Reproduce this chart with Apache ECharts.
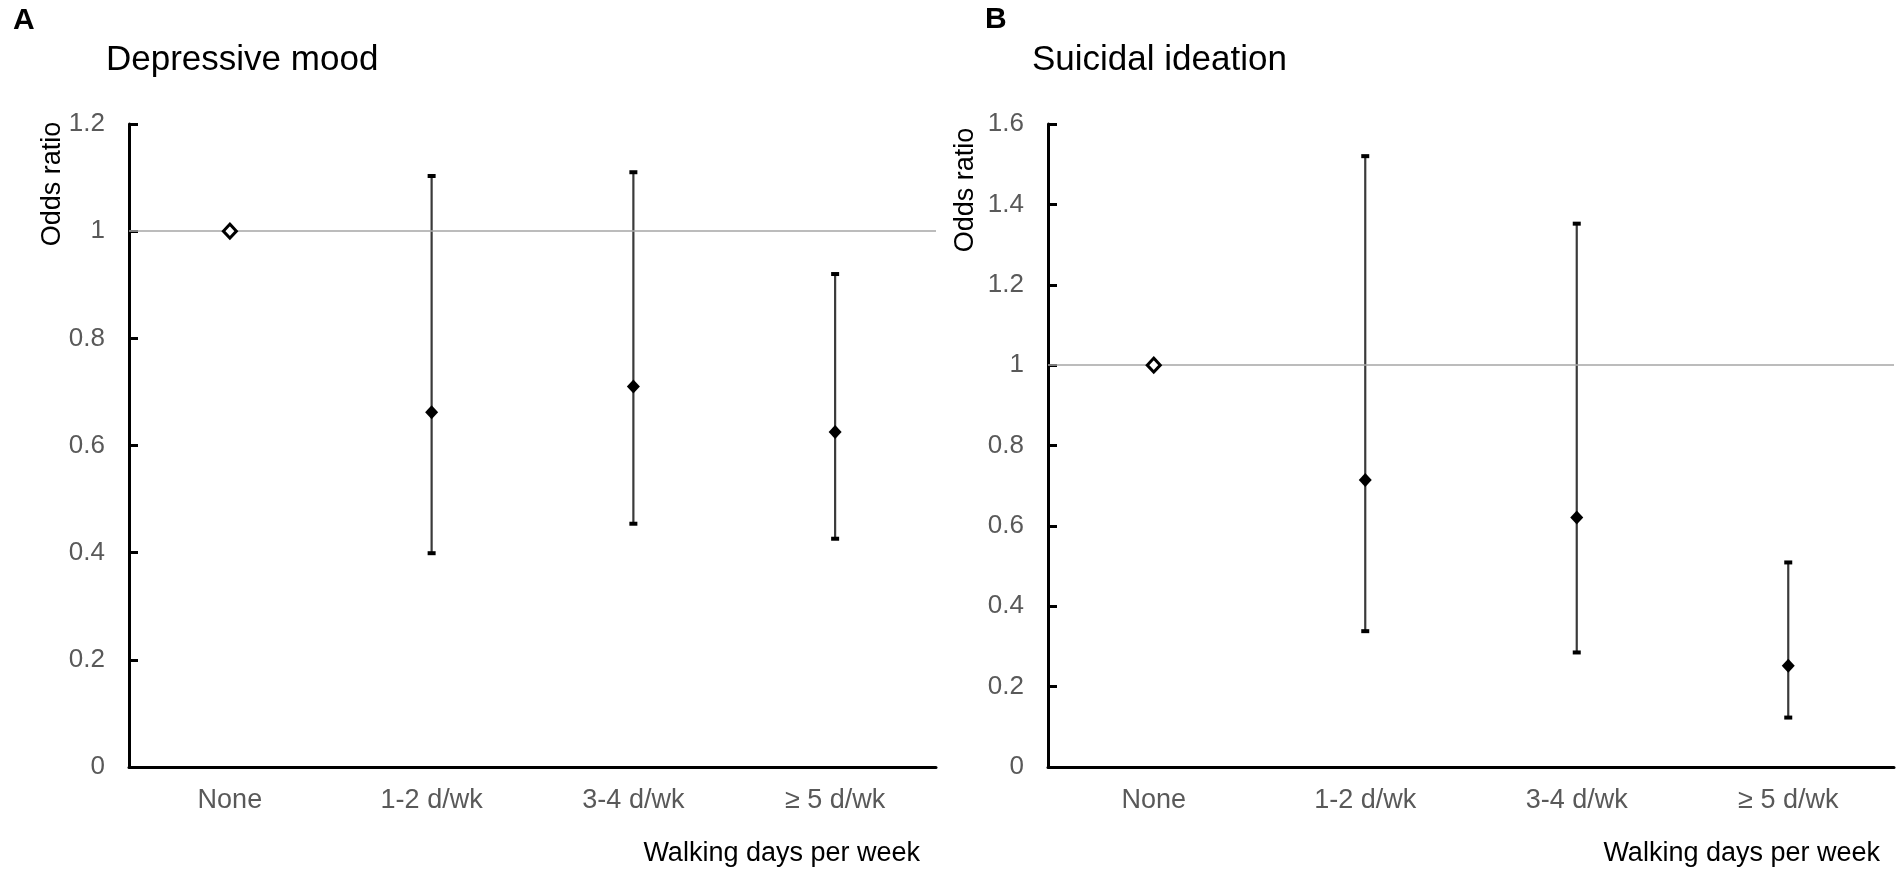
<!DOCTYPE html>
<html>
<head>
<meta charset="utf-8">
<script src="https://cdn.jsdelivr.net/npm/echarts@6/dist/echarts.min.js"></script>
<style>
html,body{margin:0;padding:0;background:#fff;}
#chart{width:1902px;height:874px;}
</style>
</head>
<body>
<div id="chart"></div>
<script>
// ---- data ----
var categories = ['None', '1-2 d/wk', '3-4 d/wk', '\u2265 5 d/wk'];
// Panel A: Depressive mood
var orA   = [1, 0.662, 0.710, 0.625];
var lowA  = [null, 0.399, 0.454, 0.426];
var highA = [null, 1.103, 1.110, 0.920];
// Panel B: Suicidal ideation
var orB   = [1, 0.714, 0.621, 0.252];
var lowB  = [null, 0.338, 0.285, 0.123];
var highB = [null, 1.520, 1.352, 0.509];
var yTicksA = {min: 0, max: 1.2, interval: 0.2};
var yTicksB = {min: 0, max: 1.6, interval: 0.2};
var panelTitles = ['Depressive mood', 'Suicidal ideation'];
var panelLetters = ['A', 'B'];
var yName = 'Odds ratio';
var xName = 'Walking days per week';

var FONT = "'Liberation Sans', Arial, sans-serif";

function ciData(low, high) {
  var out = [];
  for (var i = 0; i < low.length; i++) {
    if (low[i] != null) out.push([i, low[i], high[i]]);
  }
  return out;
}
function pointData(or) {
  return or.map(function (v, i) {
    if (i === 0) {
      return {value: [i, v], itemStyle: {color: '#ffffff', borderColor: '#000000', borderWidth: 3}};
    }
    return {value: [i, v]};
  });
}
function renderCI(params, api) {
  var x = api.value(0), lo = api.value(1), hi = api.value(2);
  var pLo = api.coord([x, lo]);
  var pHi = api.coord([x, hi]);
  return {
    type: 'group',
    children: [
      {type: 'line', shape: {x1: pLo[0], y1: pLo[1], x2: pHi[0], y2: pHi[1]},
       style: {stroke: '#3a3a3a', lineWidth: 2.2}},
      {type: 'rect', shape: {x: pHi[0] - 4, y: pHi[1] - 2, width: 8, height: 4}, style: {fill: '#000'}},
      {type: 'rect', shape: {x: pLo[0] - 4, y: pLo[1] - 2, width: 8, height: 4}, style: {fill: '#000'}}
    ]
  };
}
function xAxisCfg(gridIndex) {
  return {
    type: 'category', gridIndex: gridIndex, data: categories,
    boundaryGap: true,
    axisLine: {lineStyle: {color: '#000', width: 3}},
    axisTick: {inside: true, length: 8, lineStyle: {color: '#000', width: 2.5}},
    axisLabel: {color: '#595959', fontSize: 27, fontFamily: FONT, margin: 20},
    splitLine: {show: false}
  };
}
function yAxisCfg(gridIndex, t) {
  return {
    type: 'value', gridIndex: gridIndex, min: t.min, max: t.max, interval: t.interval,
    axisLine: {show: true, lineStyle: {color: '#000', width: 3}},
    axisTick: {show: true, inside: true, length: 9, lineStyle: {color: '#000', width: 3}},
    axisLabel: {color: '#595959', fontSize: 26, fontFamily: FONT, margin: 24},
    splitLine: {show: false}
  };
}
function refLine() {
  return {
    silent: true, symbol: 'none', label: {show: false},
    lineStyle: {color: '#a6a6a6', width: 1.5, type: 'solid'},
    data: [{yAxis: 1}]
  };
}

var chart = echarts.init(document.getElementById('chart'), null, {renderer: 'canvas'});
chart.setOption({
  backgroundColor: '#ffffff',
  animation: false,
  title: [
    {text: panelTitles[0], left: 106, top: 43, padding: 0, textStyle: {color: '#000', fontSize: 35, fontWeight: 'normal', fontFamily: FONT}},
    {text: panelTitles[1], left: 1032, top: 43, padding: 0, textStyle: {color: '#000', fontSize: 35, fontWeight: 'normal', fontFamily: FONT}}
  ],
  grid: [
    {left: 129, top: 124, width: 807, height: 643, containLabel: false},
    {left: 1048, top: 124, width: 846, height: 643, containLabel: false}
  ],
  xAxis: [xAxisCfg(0), xAxisCfg(1)],
  yAxis: [yAxisCfg(0, yTicksA), yAxisCfg(1, yTicksB)],
  graphic: [
    {type: 'text', left: 13, top: 6, style: {text: panelLetters[0], fill: '#000', font: 'bold 30px ' + FONT}},
    {type: 'text', left: 985, top: 5, style: {text: panelLetters[1], fill: '#000', font: 'bold 30px ' + FONT}},
    {type: 'text', x: 53, y: 184, rotation: Math.PI / 2,
     style: {text: yName, fill: '#000', font: '27px ' + FONT, align: 'center', verticalAlign: 'middle'}},
    {type: 'text', x: 966, y: 190, rotation: Math.PI / 2,
     style: {text: yName, fill: '#000', font: '27px ' + FONT, align: 'center', verticalAlign: 'middle'}},
    {type: 'text', x: 920, y: 854, style: {text: xName, fill: '#000', font: '27px ' + FONT, align: 'right', verticalAlign: 'middle'}},
    {type: 'text', x: 1880, y: 854, style: {text: xName, fill: '#000', font: '27px ' + FONT, align: 'right', verticalAlign: 'middle'}}
  ],
  series: [
    {type: 'custom', xAxisIndex: 0, yAxisIndex: 0, renderItem: renderCI, data: ciData(lowA, highA),
     encode: {x: 0, y: [1, 2]}, z: 2, markLine: refLine()},
    {type: 'scatter', xAxisIndex: 0, yAxisIndex: 0, data: pointData(orA), symbol: 'diamond', symbolSize: [13, 14],
     itemStyle: {color: '#000', opacity: 1}, z: 5},
    {type: 'custom', xAxisIndex: 1, yAxisIndex: 1, renderItem: renderCI, data: ciData(lowB, highB),
     encode: {x: 0, y: [1, 2]}, z: 2, markLine: refLine()},
    {type: 'scatter', xAxisIndex: 1, yAxisIndex: 1, data: pointData(orB), symbol: 'diamond', symbolSize: [13, 14],
     itemStyle: {color: '#000', opacity: 1}, z: 5}
  ]
});
</script>
</body>
</html>
